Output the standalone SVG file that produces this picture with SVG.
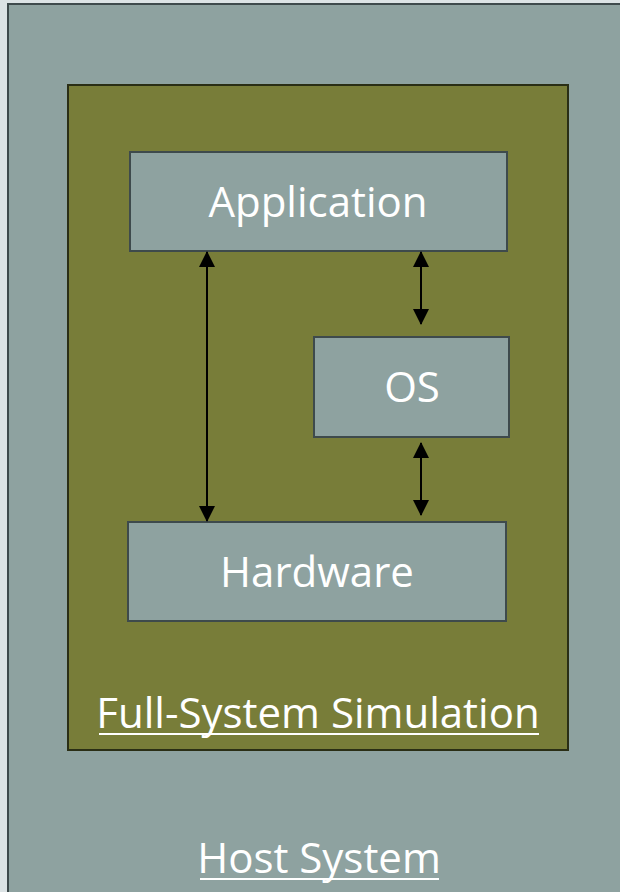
<svg xmlns="http://www.w3.org/2000/svg" width="620" height="892" viewBox="0 0 620 892">
<style>
.box{fill:#8ea2a0;stroke:#3e4a4c;stroke-width:2}
.lbl{font-family:"Open Sans","Liberation Sans",sans-serif;fill:#ffffff;text-anchor:middle;font-size:42px}
.con{stroke:#000;stroke-width:2;fill:none}
</style>
<defs>
<marker id="ah" viewBox="0 0 16 16" refX="15" refY="8" markerWidth="16" markerHeight="16" markerUnits="userSpaceOnUse" orient="auto-start-reverse">
<path d="M0,0 L16,8 L0,16 Z" fill="#000"/>
</marker>
</defs>
<rect x="0" y="0" width="620" height="892" fill="#dce3e5"/>
<g id="host">
<rect x="8" y="4" width="620" height="900" fill="#8ea2a0" stroke="#3e4a4c" stroke-width="2"/>
<text class="lbl" x="319" y="873">Host System</text>
<line x1="200" y1="879" x2="439" y2="879" stroke="#fff" stroke-width="2"/>
</g>
<g id="fullsystem">
<rect x="68" y="85" width="500" height="665" fill="#787d39" stroke="#2a2e15" stroke-width="2"/>
<text class="lbl" x="318" y="728">Full-System Simulation</text>
<line x1="99" y1="734" x2="539" y2="734" stroke="#fff" stroke-width="2"/>
</g>
<g id="application">
<rect class="box" x="130" y="152" width="377" height="99"/>
<text class="lbl" x="318" y="217">Application</text>
</g>
<g id="os">
<rect class="box" x="314" y="337" width="195" height="100"/>
<text class="lbl" x="412" y="402">OS</text>
</g>
<g id="hardware">
<rect class="box" x="128" y="522" width="378" height="99"/>
<text class="lbl" x="317" y="587">Hardware</text>
</g>
<g id="connectors">
<line class="con" x1="207" y1="252" x2="207" y2="521" marker-start="url(#ah)" marker-end="url(#ah)"/>
<line class="con" x1="421" y1="252" x2="421" y2="324" marker-start="url(#ah)" marker-end="url(#ah)"/>
<line class="con" x1="421" y1="443" x2="421" y2="515" marker-start="url(#ah)" marker-end="url(#ah)"/>
</g>
</svg>
